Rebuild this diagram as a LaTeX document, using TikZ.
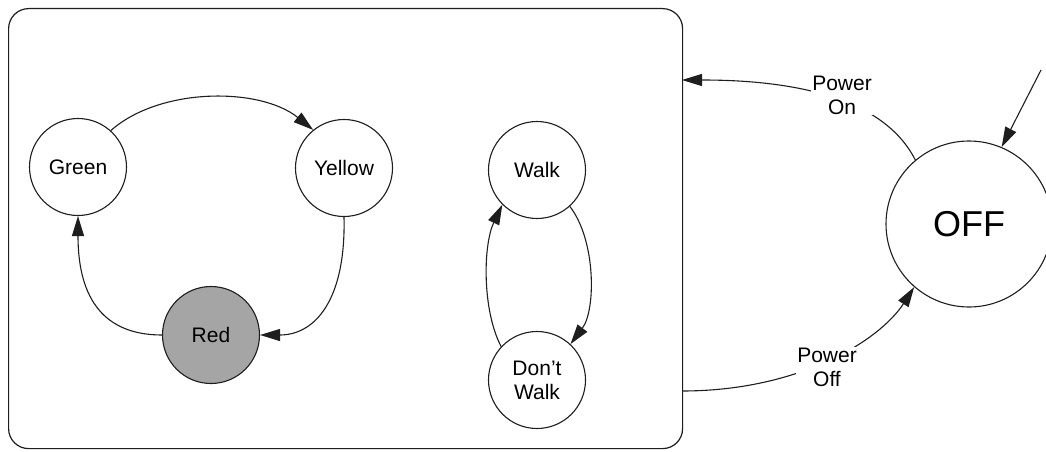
\documentclass[tikz,border=0pt]{standalone}
\usepackage{fontspec}
\setmainfont{Liberation Sans}
\usetikzlibrary{arrows.meta}
\definecolor{stopfill}{RGB}{165,165,165}
\definecolor{ink}{RGB}{30,30,30}
\begin{document}
\begin{tikzpicture}[x=1pt,y=-1pt,
  state/.style={circle,draw=ink,line width=1.1pt,inner sep=0pt,minimum size=97pt,
    font=\fontsize{21}{24}\selectfont,align=center},
  trans/.style={draw=ink,line width=1.1pt,-{Triangle[length=20pt,width=12pt]}},
  plain/.style={draw=ink,line width=1.1pt},
  lbl/.style={fill=white,inner sep=1pt,font=\fontsize{21}{24}\selectfont,align=center}]
\useasboundingbox (0,0) rectangle (1046,452);

% superstate box holding both sub-machines
\node[draw=ink,line width=1.2pt,rounded corners=20pt,minimum width=674pt,minimum height=440pt,
  anchor=north west,inner sep=0pt] (panel) at (8,8) {};

% traffic-light cycle
\node[state] (green) at (78,167) {Green};
\node[state] (yellow) at (344,168) {Yellow};
\node[state,fill=stopfill] (red) at (211,335) {Red};

\draw[trans] (green.48) .. controls (160,87) and (260,87) .. (yellow.129);
\draw[trans] (yellow.south) .. controls (346,300) and (315,335) .. (red.east);
\draw[trans] (red.west) .. controls (105,335) and (78,300) .. (green.south);

% pedestrian signal
\node[state] (walk) at (537,170) {Walk};
\node[state] (dontwalk) at (537,380) {Don’t\\Walk};

\draw[trans] (walk.-48) .. controls (596,240) and (596,310) .. (dontwalk.47);
\draw[trans] (dontwalk.137) .. controls (482,310) and (483,245) .. (walk.225);

% power state
\node[state,minimum size=166pt,font=\fontsize{36}{40}\selectfont] (off) at (969,224) {OFF};

\coordinate (init) at (1041,70);
\coordinate (onEnd) at (682,80);
\coordinate (offStart) at (682,391);

\draw[trans] (init) -- (off.67);
\draw[trans] (off.130) .. controls (885,100) and (800,80) .. (onEnd);
\draw[trans] (offStart) .. controls (800,391) and (880,340) .. (off.229);

\node[lbl] (powon) at (842,95) {Power\\On};
\node[lbl] (powoff) at (827,367) {Power\\Off};
\end{tikzpicture}
\end{document}
